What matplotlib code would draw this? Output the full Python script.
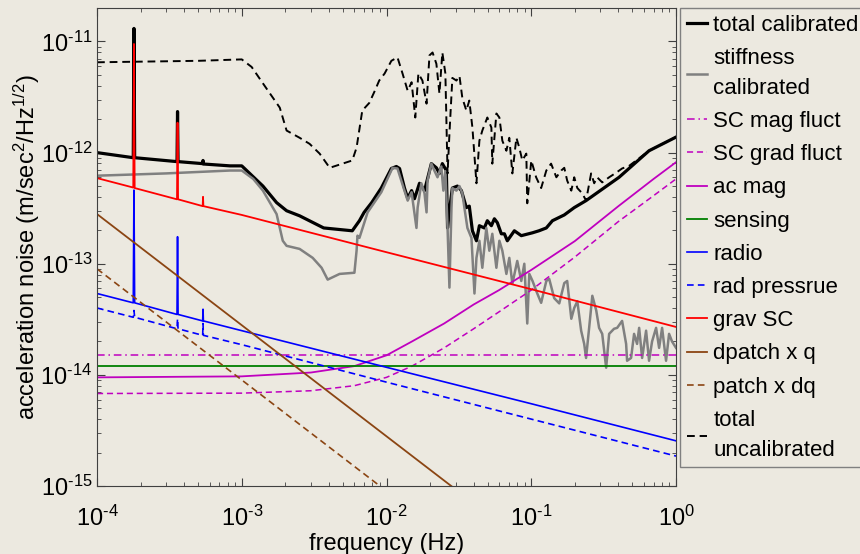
import numpy as np
from matplotlib import pyplot as plt
from matplotlib.ticker import FuncFormatter

plt.rcParams["font.family"] = "Liberation Sans"
plt.rcParams["mathtext.default"] = "regular"
plt.rcParams["axes.unicode_minus"] = False

bg_color = "#ece9e0"
purple = "#bf00bf"
brown = "#8b4513"

# ---- total calibrated (thick black) ----
tc_freq = [1e-4, 1.78e-4, 1.8e-4, 1.82e-4, 3.57e-4, 3.6e-4, 3.63e-4, 5.37e-4, 5.4e-4, 5.43e-4,
           8.3e-4, 1.0e-3, 1.4e-3, 1.74e-3, 2.04e-3, 2.51e-3, 3.68e-3, 5.8e-3, 6.5e-3, 7.0e-3,
           7.9e-3, 9.2e-3, 1.08e-2, 1.17e-2, 1.23e-2, 1.33e-2, 1.40e-2, 1.49e-2, 1.56e-2, 1.69e-2,
           1.83e-2, 2.04e-2, 2.21e-2, 2.32e-2, 2.43e-2, 2.59e-2, 2.64e-2, 2.72e-2, 2.85e-2, 3.09e-2,
           3.29e-2, 3.56e-2, 3.73e-2, 3.92e-2, 4.18e-2, 4.38e-2, 4.74e-2, 4.97e-2, 5.30e-2, 5.56e-2,
           5.83e-2, 6.21e-2, 6.52e-2, 6.83e-2, 7.64e-2, 8.53e-2, 0.102, 0.113, 0.127, 0.14,
           0.169, 0.198, 0.239, 0.404, 0.651, 1.0]
tc_amp = [1.0e-12, 9.0e-13, 1.31e-11, 9.0e-13, 8.3e-13, 2.34e-12, 8.3e-13, 7.96e-13, 8.5e-13, 7.9e-13,
          7.6e-13, 7.6e-13, 5.0e-13, 3.55e-13, 3.0e-13, 2.7e-13, 2.1e-13, 1.98e-13, 2.44e-13, 2.9e-13,
          3.55e-13, 4.8e-13, 7.2e-13, 7.5e-13, 7.2e-13, 4.8e-13, 3.9e-13, 4.55e-13, 3.85e-13, 5.3e-13,
          4.55e-13, 7.96e-13, 7.3e-13, 6.5e-13, 7.96e-13, 6.9e-13, 2.1e-13, 3.0e-13, 4.8e-13, 5.0e-13,
          4.55e-13, 3.2e-13, 3.3e-13, 1.98e-13, 1.61e-13, 2.2e-13, 2.1e-13, 2.44e-13, 2.2e-13, 2.54e-13,
          2.34e-13, 1.86e-13, 1.86e-13, 1.61e-13, 1.98e-13, 1.79e-13, 1.9e-13, 1.98e-13, 2.1e-13, 2.44e-13,
          2.75e-13, 3.2e-13, 3.7e-13, 6.0e-13, 1.04e-12, 1.38e-12]

# ---- stiffness calibrated (grey) ----
st_freq = [1e-4, 3e-4, 8.3e-4, 1.0e-3, 1.2e-3, 1.4e-3, 1.74e-3, 1.92e-3, 2.04e-3, 2.51e-3,
           3.09e-3, 3.56e-3, 3.92e-3, 4.74e-3, 6.0e-3, 6.21e-3, 6.3e-3, 6.5e-3, 7.4e-3, 9.2e-3,
           1.10e-2, 1.19e-2, 1.33e-2, 1.40e-2, 1.49e-2, 1.61e-2, 1.64e-2, 1.74e-2, 1.83e-2, 1.89e-2,
           1.92e-2, 2.04e-2, 2.14e-2, 2.25e-2, 2.39e-2, 2.47e-2, 2.55e-2, 2.64e-2, 2.72e-2, 2.81e-2,
           2.85e-2, 3.04e-2, 3.19e-2, 3.34e-2, 3.45e-2, 3.62e-2, 3.86e-2, 4.05e-2, 4.18e-2, 4.38e-2,
           4.59e-2, 4.89e-2, 5.13e-2, 5.38e-2, 5.74e-2, 6.02e-2, 6.31e-2, 6.73e-2, 7.05e-2, 7.40e-2,
           8.0e-2, 8.53e-2, 8.95e-2, 9.38e-2, 9.69e-2, 0.102, 0.110, 0.117, 0.127, 0.133,
           0.144, 0.156, 0.169, 0.177, 0.189, 0.198, 0.208, 0.221, 0.232, 0.239,
           0.251, 0.264, 0.281, 0.294, 0.309, 0.329, 0.345, 0.373, 0.392, 0.424,
           0.452, 0.459, 0.489, 0.513, 0.538, 0.556, 0.583, 0.621, 0.651, 0.683,
           0.728, 0.764, 0.801, 0.853, 0.895, 0.938, 1.0]
st_amp = [6.2e-13, 6.5e-13, 6.9e-13, 6.9e-13, 5.8e-13, 4.55e-13, 2.8e-13, 1.61e-13, 1.45e-13, 1.36e-13,
          1.13e-13, 9.2e-14, 7.2e-14, 8.1e-14, 8.3e-14, 1.31e-13, 1.79e-13, 1.71e-13, 2.9e-13, 4.4e-13,
          7.3e-13, 7.2e-13, 4.55e-13, 3.7e-13, 4.4e-13, 2.1e-13, 3.2e-13, 5.3e-13, 4.3e-13, 2.9e-13,
          5.6e-13, 7.96e-13, 6.9e-13, 6.0e-13, 7.5e-13, 4.55e-13, 6.8e-13, 2.1e-13, 6.1e-14, 3.2e-13,
          4.8e-13, 4.55e-13, 5.0e-13, 4.3e-13, 3.2e-13, 2.1e-13, 1.71e-13, 5.4e-14, 1.13e-13, 1.61e-13,
          9.2e-14, 2.1e-13, 1.31e-13, 1.86e-13, 9.2e-14, 1.61e-13, 1.31e-13, 8.1e-14, 1.13e-13, 6.6e-14,
          1.06e-13, 7.0e-14, 1.0e-13, 2.9e-14, 8.1e-14, 7.0e-14, 5.4e-14, 4.45e-14, 7.0e-14, 7.3e-14,
          4.9e-14, 4.4e-14, 6.7e-14, 7.0e-14, 3.2e-14, 4.0e-14, 4.6e-14, 2.5e-14, 1.9e-14, 1.42e-14,
          2.65e-14, 5.15e-14, 3.8e-14, 2.65e-14, 2.34e-14, 1.16e-14, 2.34e-14, 2.6e-14, 2.65e-14, 3.06e-14,
          1.9e-14, 1.34e-14, 1.42e-14, 2.34e-14, 1.9e-14, 2.65e-14, 1.42e-14, 2.5e-14, 1.34e-14, 2.0e-14,
          2.65e-14, 1.75e-14, 2.65e-14, 1.34e-14, 2.34e-14, 2.0e-14, 1.75e-14]

# ---- flat terms ----
mag_fluct_freq = [1e-4, 1.0]
mag_fluct_amp = [1.5e-14, 1.5e-14]
sensing_freq = [1e-4, 1.0]
sensing_amp = [1.2e-14, 1.2e-14]

# ---- gradient fluctuation and ac magnetic ----
mag_freq = [1e-4, 1e-3, 3e-3, 6e-3, 1e-2, 1.5e-2, 2.5e-2, 4e-2, 6e-2, 0.1, 0.2, 0.4, 0.7, 1.0]
grad_fluct_amp = [6.8e-15, 6.85e-15, 7.2e-15, 8.0e-15, 9.5e-15, 1.2e-14, 1.75e-14, 2.6e-14, 3.7e-14,
                  5.8e-14, 1.15e-13, 2.4e-13, 4.1e-13, 5.8e-13]
ac_mag_amp = [9.5e-15, 9.7e-15, 1.05e-14, 1.2e-14, 1.5e-14, 2.0e-14, 2.9e-14, 4.3e-14, 5.8e-14,
              8.8e-14, 1.6e-13, 3.3e-13, 5.8e-13, 8.2e-13]

# ---- radiometer and radiation pressure ----
radio_freq = [1e-4, 1.78e-4, 1.8e-4, 1.82e-4, 3.57e-4, 3.6e-4, 3.63e-4, 5.37e-4, 5.4e-4, 5.43e-4,
              1e-3, 1e-2, 0.1, 1.0]
radio_amp = [5.4e-14, 4.45e-14, 4.6e-13, 4.45e-14, 3.5e-14, 1.75e-13, 3.5e-14, 3.06e-14, 3.9e-14, 3.06e-14,
             2.5e-14, 1.17e-14, 5.5e-15, 2.55e-15]
radp_amp = [4.0e-14, 3.3e-14, 3.8e-14, 3.3e-14, 2.6e-14, 3.2e-14, 2.6e-14, 2.27e-14, 2.9e-14, 2.27e-14,
            1.87e-14, 8.6e-15, 4.0e-15, 1.86e-15]

# ---- spacecraft gravity ----
grav_freq = [1e-4, 1.78e-4, 1.8e-4, 1.82e-4, 3.57e-4, 3.6e-4, 3.63e-4, 5.37e-4, 5.4e-4, 5.43e-4,
             1e-3, 1e-2, 0.1, 1.0]
grav_amp = [5.9e-13, 4.85e-13, 9.5e-12, 4.8e-13, 3.8e-13, 1.86e-12, 3.8e-13, 3.3e-13, 4.0e-13, 3.3e-13,
            2.75e-13, 1.27e-13, 5.9e-14, 2.7e-14]

# ---- patch effects ----
patch_freq = [1e-4, 1e-3, 1e-2, 0.1, 1.0]
dpatch_q_amp = [2.8e-13, 2.8e-14, 2.8e-15, 2.8e-16, 2.8e-17]
patch_dq_amp = [9.0e-14, 9.0e-15, 9.0e-16, 9.0e-17, 9.0e-18]

# ---- total uncalibrated (dashed black) ----
tu_freq = [1e-4, 5e-4, 1.0e-3, 1.17e-3, 1.4e-3, 1.83e-3, 2.04e-3, 2.51e-3, 2.94e-3, 3.45e-3,
           4.05e-3, 5.8e-3, 6.21e-3, 6.8e-3, 7.6e-3, 8.3e-3, 8.9e-3, 9.7e-3, 1.08e-2, 1.19e-2,
           1.29e-2, 1.40e-2, 1.49e-2, 1.58e-2, 1.66e-2, 1.77e-2, 1.89e-2, 1.98e-2, 2.08e-2, 2.21e-2,
           2.32e-2, 2.43e-2, 2.55e-2, 2.64e-2, 2.72e-2, 2.85e-2, 3.04e-2, 3.19e-2, 3.34e-2, 3.56e-2,
           3.73e-2, 3.92e-2, 4.18e-2, 4.38e-2, 4.59e-2, 4.97e-2, 5.30e-2, 5.38e-2, 5.74e-2, 6.02e-2,
           6.31e-2, 6.73e-2, 7.05e-2, 7.40e-2, 7.89e-2, 8.26e-2, 8.67e-2, 9.24e-2, 9.38e-2, 0.1,
           0.108, 0.117, 0.127, 0.137, 0.149, 0.161, 0.169, 0.177, 0.189, 0.198,
           0.208, 0.225, 0.239, 0.259, 0.272, 0.285, 0.309, 0.345, 0.386, 0.424,
           0.474, 0.651, 1.0]
tu_amp = [6.5e-12, 6.7e-12, 6.9e-12, 5.9e-12, 4.2e-12, 2.54e-12, 1.58e-12, 1.36e-12, 1.2e-12, 9.8e-13,
          7.3e-13, 8.5e-13, 1.11e-12, 2.39e-12, 2.8e-12, 3.6e-12, 4.45e-12, 5.15e-12, 6.7e-12, 7.2e-12,
          5.15e-12, 3.6e-12, 4.3e-12, 2.07e-12, 5.15e-12, 4.45e-12, 2.76e-12, 7.5e-12, 7.96e-12, 6.3e-12,
          3.4e-12, 7.96e-12, 5.15e-12, 6.5e-13, 1.48e-12, 4.7e-12, 4.45e-12, 4.9e-12, 3.1e-12, 2.39e-12,
          2.94e-12, 1.68e-12, 5.3e-13, 1.28e-12, 1.58e-12, 2.07e-12, 1.68e-12, 7.96e-13, 2.25e-12, 2.07e-12,
          1.28e-12, 1.04e-12, 1.36e-12, 6.5e-13, 1.36e-12, 1.11e-12, 8.5e-13, 9.8e-13, 3.5e-13, 8.5e-13,
          6.0e-13, 4.8e-13, 6.9e-13, 7.96e-13, 6.0e-13, 6.9e-13, 7.3e-13, 5.6e-13, 4.55e-13, 6.0e-13,
          4.8e-13, 4.3e-13, 3.7e-13, 6.5e-13, 5.3e-13, 6.0e-13, 5.4e-13, 6.0e-13, 6.6e-13, 7.2e-13,
          7.6e-13, 1.04e-12, 1.38e-12]


def decade_label(value, pos):
    # 10 with a short-hyphen exponent
    exp = int(round(np.log10(value)))
    sign = "\u2010" if exp < 0 else ""
    return "10$^{%s%d}$" % (sign, abs(exp))


fig = plt.figure(figsize=(8.6, 5.54), dpi=100, facecolor=bg_color)
ax = fig.add_axes([0.1128, 0.1227, 0.6733, 0.8628], facecolor=bg_color)

ax.loglog(tc_freq, tc_amp, color="k", lw=2.3, label="total calibrated")
ax.loglog(st_freq, st_amp, color="#808080", lw=1.8, label="stiffness\ncalibrated")
ax.loglog(mag_fluct_freq, mag_fluct_amp, color=purple, lw=1.1, ls=(0, (5, 2.5, 1, 2.5)), label="SC mag fluct")
ax.loglog(mag_freq, grad_fluct_amp, color=purple, lw=1.1, ls=(0, (4, 2.5)), label="SC grad fluct")
ax.loglog(mag_freq, ac_mag_amp, color=purple, lw=1.3, label="ac mag")
ax.loglog(sensing_freq, sensing_amp, color="#007f00", lw=1.3, label="sensing")
ax.loglog(radio_freq, radio_amp, color="b", lw=1.2, label="radio")
ax.loglog(radio_freq, radp_amp, color="b", lw=1.2, ls=(0, (4, 2.5)), label="rad pressrue")
ax.loglog(grav_freq, grav_amp, color="r", lw=1.3, label="grav SC")
ax.loglog(patch_freq, dpatch_q_amp, color=brown, lw=1.3, label="dpatch x q")
ax.loglog(patch_freq, patch_dq_amp, color=brown, lw=1.2, ls=(0, (4, 2.5)), label="patch x dq")
ax.loglog(tu_freq, tu_amp, color="k", lw=1.4, ls=(0, (4, 2.5)), label="total\nuncalibrated")

ax.set_xlim(1e-4, 1.0)
ax.set_ylim(1e-15, 2e-11)
ax.xaxis.set_major_formatter(FuncFormatter(decade_label))
ax.yaxis.set_major_formatter(FuncFormatter(decade_label))

ax.tick_params(which="both", direction="in", top=True, right=True, labelsize=17, color="#404040")
ax.tick_params(which="major", length=6)
ax.tick_params(which="minor", length=3)
ax.tick_params(axis="x", pad=14)
for side in ax.spines.values():
    side.set_color("#404040")
    side.set_linewidth(0.8)

ax.set_xlabel("frequency (Hz)", fontsize=17, labelpad=2)
ax.set_ylabel("acceleration noise (m/sec$^2$/Hz$^{1/2}$)", fontsize=17)
ax.yaxis.set_label_coords(-0.095, 0.5)

leg = fig.legend(
    loc="upper left",
    bbox_to_anchor=(680 / 860, 1 - 8 / 554),
    bbox_transform=fig.transFigure,
    fontsize=16,
    handlelength=0.9,
    handletextpad=0.3,
    borderpad=0.3,
    borderaxespad=0,
    labelspacing=0.55,
    fancybox=False,
    framealpha=1,
    facecolor=bg_color,
    edgecolor="#808080",
)
leg.get_frame().set_linewidth(1.0)
for txt in leg.get_texts():
    txt.set_linespacing(1.55)

fig.savefig("out.png", dpi=100, facecolor=bg_color)
